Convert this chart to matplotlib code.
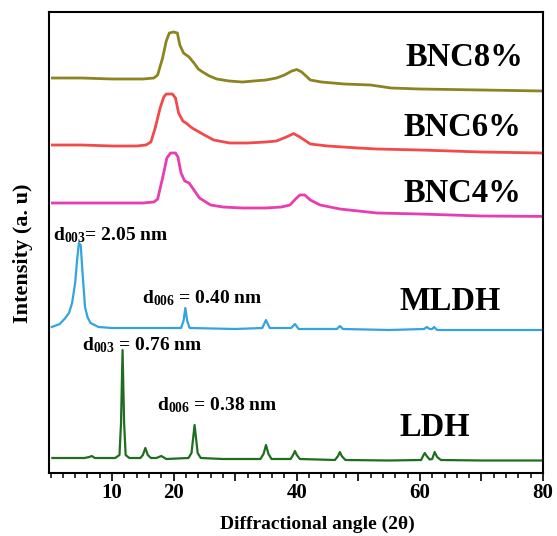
import matplotlib
matplotlib.use("Agg")
import matplotlib.pyplot as plt
from matplotlib.ticker import MultipleLocator, FixedLocator, FixedFormatter

plt.rcParams['font.family'] = ['Liberation Serif', 'DejaVu Serif']
plt.rcParams['font.weight'] = 'bold'
plt.rcParams['mathtext.fontset'] = 'custom'
plt.rcParams['mathtext.rm'] = 'Liberation Serif:bold'
plt.rcParams['mathtext.bf'] = 'Liberation Serif:bold'
plt.rcParams['mathtext.it'] = 'Liberation Serif:bold'

# ---- data (2theta in degrees, intensity in arbitrary stacked units) ----
ldh_angle = [0.3, 5.5, 6.3, 6.7, 7.2, 10.5, 11.2, 11.45, 11.7, 11.95, 12.2, 12.8,
             14.6, 15.0, 15.4, 15.8, 16.3, 17.2, 18.0, 18.8, 22.4, 22.9, 23.15, 23.4,
             23.65, 23.9, 24.4, 28.0, 34.1, 34.6, 35.0, 35.4, 35.9, 39.0, 39.4, 39.7,
             40.0, 40.5, 46.2, 46.7, 47.0, 47.3, 47.9, 55.0, 60.2, 60.6, 60.8, 61.1,
             61.6, 62.0, 62.4, 62.8, 63.4, 70.0, 80.0]
ldh_int = [15, 15, 16, 17, 15, 15, 18, 50, 123, 50, 18, 15,
           15, 18, 25, 18, 15, 15, 17, 14, 15, 20, 34, 48,
           34, 20, 15, 14, 14, 19, 28, 19, 14, 14, 18, 22,
           18, 14, 13, 17, 21, 17, 13, 12.5, 13, 18, 20, 17,
           13.5, 14, 21, 16, 13, 12.5, 12.5]

mldh_angle = [0.2, 1.5, 2.4, 3.0, 3.5, 4.0, 4.3, 4.6, 4.9, 5.2, 5.6, 6.0, 6.5, 7.8,
              10.0, 15.0, 21.2, 21.6, 21.9, 22.2, 22.6, 30.0, 34.4, 35.0, 35.6,
              39.1, 39.7, 40.3, 46.5, 47.0, 47.5, 55.0, 60.7, 61.1, 61.6, 62.0,
              62.3, 62.8, 70.0, 80.0]
mldh_int = [146, 149, 155, 160, 170, 190, 212, 230, 228, 200, 166, 156, 150, 146,
            145, 145, 145, 152, 165, 152, 145, 144, 145, 153, 145,
            145, 149, 144, 144, 147, 144, 143, 144, 146, 144, 144,
            146, 143, 143, 143]

bnc4_angle = [0.3, 5, 10, 15, 16.8, 17.4, 18.2, 18.9, 19.5, 20.3, 20.7, 21.2, 21.8,
              22.5, 23.3, 24.2, 26, 28, 31.2, 35, 37.5, 38.9, 39.8, 40.5, 41.3,
              42.2, 43.8, 47, 53, 60, 70, 80]
bnc4_int = [270, 270, 270, 270, 271, 274, 295, 315, 320, 320, 316, 300, 292,
            290, 283, 275, 268, 266, 265, 265, 266, 268, 274, 278, 278,
            273, 268, 264, 260, 259, 257, 256.6]

bnc6_angle = [0.3, 5, 10, 14, 15.5, 16.3, 17.0, 17.8, 18.4, 18.8, 19.8, 20.3, 20.8,
              21.5, 22.0, 23.0, 24.7, 26.5, 29.1, 32, 35, 36.7, 38.3, 39.5, 40.5,
              42.2, 45, 50, 53, 60, 70, 80]
bnc6_int = [328, 328, 327, 327, 328, 331, 345, 365, 376, 379, 379, 375, 360,
            352, 350, 345, 339, 333, 330, 330, 331, 332, 336, 339.4, 336,
            329, 327, 325, 324, 323, 321, 320]

bnc8_angle = [0.3, 5, 10, 15, 16.8, 17.4, 18.2, 18.8, 19.3, 20.0, 20.6, 21.0, 21.6,
              22.5, 23.3, 24.0, 24.7, 25.8, 27, 29, 31.2, 33, 35, 36.7, 38, 39.2,
              40, 40.8, 42.2, 44, 47.7, 52, 55.3, 60, 70, 80]
bnc8_int = [395, 395, 394, 394, 395, 398, 415, 432, 440, 441, 440, 428, 420,
            416, 410, 404, 401, 397, 394, 392, 391, 392, 393, 395, 398, 402,
            403.5, 401, 393, 391, 389, 388, 385, 384, 383, 382]

sample_names = ["LDH", "MLDH", "BNC4%", "BNC6%", "BNC8%"]
sample_colors = ["#1f6e1f", "#33a4de", "#e83cb2", "#f24a4a", "#8c8420"]

tick_values = [10, 20, 30, 40, 50, 60, 70, 80]
tick_labels = ["10", "20", "", "40", "", "60", "", "80"]

# ---- figure ----
W, H = 557, 536
fig = plt.figure(figsize=(W / 100, H / 100), dpi=100)
ax = fig.add_axes([49 / W, 1 - 473 / H, (543 - 49) / W, (473 - 12) / H])

series = [(ldh_angle, ldh_int), (mldh_angle, mldh_int), (bnc4_angle, bnc4_int),
          (bnc6_angle, bnc6_int), (bnc8_angle, bnc8_int)]
for (xa, ya), c in zip(series, sample_colors):
    lw = 1.6 if c in ("#1f6e1f", "#33a4de") else 2.0
    ax.plot(xa, ya, color=c, lw=lw, solid_joinstyle='round')

ax.set_xlim(-0.25, 80)
ax.set_ylim(0, 461)

ax.xaxis.set_major_locator(FixedLocator(tick_values))
ax.xaxis.set_major_formatter(FixedFormatter(tick_labels))
ax.xaxis.set_minor_locator(MultipleLocator(2))
ax.tick_params(axis='x', which='major', length=6, width=1.2, pad=1,
               labelsize=15, direction='out')
ax.tick_params(axis='x', which='minor', length=3.6, width=1.1, direction='out')
ax.tick_params(axis='y', left=False, labelleft=False)
for s in ax.spines.values():
    s.set_linewidth(1.5)
for lbl in ax.get_xticklabels():
    lbl.set_fontweight('bold')

fig.text(317 / W, 1 - 524 / H, "Diffractional angle (2θ)", fontsize=14,
         fontweight='bold', ha='center', va='center')
fig.text(23 / W, 1 - 253 / H, "Intensity (a. u)", fontsize=16,
         fontweight='bold', ha='center', va='center', rotation=90)

# sample labels
lab_x = {"BNC8%": 406, "BNC6%": 404, "BNC4%": 404, "MLDH": 400, "LDH": 400}
lab_y = {"BNC8%": 57, "BNC6%": 127, "BNC4%": 194, "MLDH": 302, "LDH": 427}
for name in sample_names:
    fig.text(lab_x[name] / W, 1 - lab_y[name] / H, name, fontsize=23.5,
             fontweight='bold', ha='left', va='center')

# d-spacing annotations
ann = [(53, 240, r"$\mathregular{d_{003}}$= 2.05 nm"),
       (142, 303, r"$\mathregular{d_{006}}$ = 0.40 nm"),
       (82, 350, r"$\mathregular{d_{003}}$ = 0.76 nm"),
       (157, 410, r"$\mathregular{d_{006}}$ = 0.38 nm")]
for x, y, t in ann:
    fig.text(x / W, 1 - y / H, t, fontsize=14, fontweight='bold',
             ha='left', va='baseline')

fig.savefig("out.png", dpi=100)
